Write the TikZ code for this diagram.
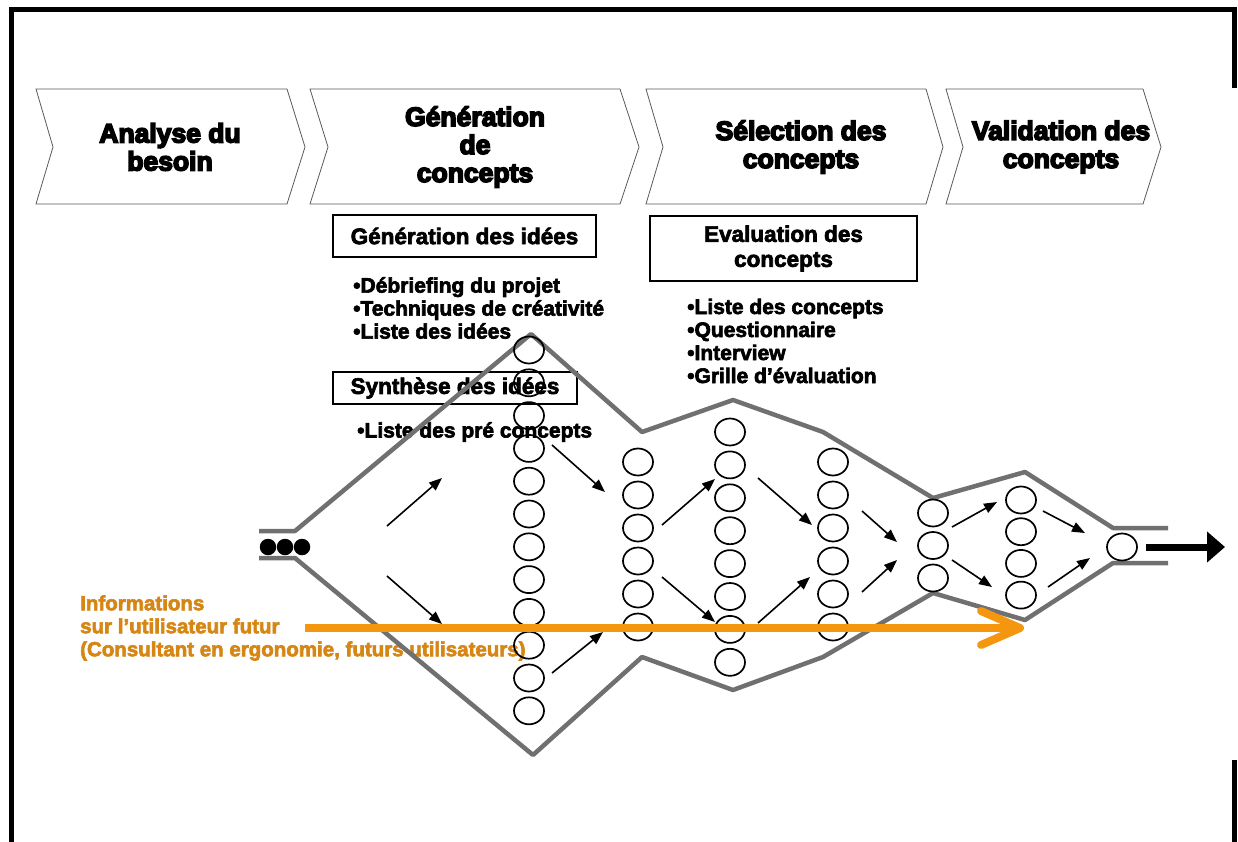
\documentclass[tikz,border=0pt]{standalone}
\usepackage{fontspec}
\setmainfont{Liberation Sans}
\newfontfamily\heavyfont{Liberation Sans Bold}[FakeBold=6]
\newfontfamily\semiheavyfont{Liberation Sans Bold}[FakeBold=3]
\usetikzlibrary{arrows.meta,shapes.geometric}

\definecolor{funnelgray}{RGB}{112,112,112}
\definecolor{chevgray}{RGB}{90,90,90}
\definecolor{infoorange}{RGB}{244,150,14}
\definecolor{infotext}{RGB}{214,134,20}

\begin{document}
\begin{tikzpicture}[x=1pt,y=-1pt,
  chev/.style={draw=chevgray, line width=0.8pt, fill=white},
  phase/.style={font=\heavyfont\fontsize{26.5}{28}\selectfont, align=center, inner sep=0pt},
  titlebox/.style={draw=black, line width=1.6pt, fill=white, inner sep=0pt,
    font=\semiheavyfont\fontsize{22.5}{25}\selectfont, align=center},
  items/.style={font=\semiheavyfont\fontsize{21}{23}\selectfont, align=left, anchor=west, inner sep=0pt},
  infolabel/.style={font=\semiheavyfont\fontsize{20.5}{23}\selectfont, align=left, anchor=west,
    inner sep=0pt, text=infotext},
  funnel/.style={draw=funnelgray, line width=4.5pt, line join=round},
  bubble/.style={ellipse, draw=black, line width=1.7pt,
    minimum width=30pt, minimum height=27pt, inner sep=0pt},
  seed/.style={circle, fill=black, minimum size=16.5pt, inner sep=0pt},
  flow/.style={line width=1.6pt, -{Triangle[length=13pt,width=10pt]}},
  outflow/.style={line width=7pt, -{Triangle[length=18pt,width=30pt]}},
  infoline/.style={draw=infoorange, line width=8pt}
]
\useasboundingbox (0,0) rectangle (1238,841);

% outer frame
\draw[line width=5pt, line join=miter] (1234.8,88) -- (1234.8,9.7) -- (11.7,9.7) -- (11.7,845);
\draw[line width=5pt] (1234.8,760) -- (1234.8,845);

% phase chevrons
\draw[chev] (36,89) -- (287,89) -- (305,147) -- (287,204) -- (36,204) -- (53,147) -- cycle;
\draw[chev] (310,89) -- (620,89) -- (639,147) -- (620,204) -- (310,204) -- (328,147) -- cycle;
\draw[chev] (646,89) -- (926,89) -- (943,147) -- (926,204) -- (646,204) -- (663,147) -- cycle;
\draw[chev] (946,89) -- (1143,89) -- (1161,147) -- (1143,204) -- (946,204) -- (963,147) -- cycle;

\node[phase] (ph1) at (170,147) {Analyse du\\besoin};
\node[phase] (ph2) at (475,147) {Génération\\de\\concepts};
\node[phase] (ph3) at (801,147) {Sélection des\\concepts};
\node[phase] (ph4) at (1061,147) {Validation des\\concepts};

% activity boxes and their contents
\node[titlebox, minimum width=263pt, minimum height=42pt] (gen) at (464.5,236) {Génération des idées};
\node[items] (genlist) at (353,308) {•Débriefing du projet\\•Techniques de créativité\\•Liste des idées};
\node[titlebox, minimum width=244pt, minimum height=32pt] (syn) at (455,388) {Synthèse des idées};
\node[items] (synlist) at (357,432) {•Liste des pré concepts};
\node[titlebox, minimum width=267pt, minimum height=65pt] (eval) at (783.5,248.5) {Evaluation des\\concepts};
\node[items] (evallist) at (687,341) {•Liste des concepts\\•Questionnaire\\•Interview\\•Grille d’évaluation};

% user information label
\node[infolabel] (info) at (80,628) {Informations\\sur l’utilisateur futur\\(Consultant en ergonomie, futurs utilisateurs)};

% funnel outline
\draw[funnel] (259,531) -- (295,531) -- (531,334) -- (642,432) -- (733,400) -- (823,432)
  -- (933,498) -- (1025,472) -- (1113,528) -- (1168,528);
\draw[funnel] (259,558) -- (295,558) -- (533,755) -- (642,657) -- (733,690) -- (823,657)
  -- (933,593) -- (1025,620) -- (1113,563) -- (1168,563);

% ideas and concepts
\foreach \i in {0,...,11} \node[bubble] (a\i) at (529,350+32.8*\i) {};
\foreach \i in {0,...,5}  \node[bubble] (b\i) at (638,462+33*\i) {};
\foreach \i in {0,...,7}  \node[bubble] (c\i) at (730,432+32.9*\i) {};
\foreach \i in {0,...,5}  \node[bubble] (d\i) at (833,462+33*\i) {};
\foreach \i in {0,...,2}  \node[bubble] (e\i) at (933,513+32.5*\i) {};
\foreach \i in {0,...,3}  \node[bubble] (f\i) at (1021,500+31.7*\i) {};
\node[bubble] (g0) at (1122,547) {};

% initial needs
\node[seed] (s1) at (268,547) {};
\node[seed] (s2) at (285,547) {};
\node[seed] (s3) at (302,547) {};

% flow between stages
\foreach \n/\sx/\sy/\ex/\ey in {
  1/387/526/442/478, 2/387/576/442/624,
  3/552/445/605/492, 4/552/673/603/632,
  5/662/525/715/479, 6/662/577/715/622,
  7/758/478/812/525, 8/758/623/810/577,
  9/862/511/897/542, 10/862/592/897/560,
  11/952/527/997/502, 12/952/560/992/587,
  13/1043/511/1085/533, 14/1048/587/1090/558} {
  \coordinate (fl\n-s) at (\sx,\sy);
  \coordinate (fl\n-e) at (\ex,\ey);
  \draw[flow] (fl\n-s) -- (fl\n-e);
}

% result leaving the funnel
\coordinate (out) at (1225,547);
\draw[outflow] ([xshift=8pt]g0.east) -- (out);

% information flow
\coordinate (info-start) at (305,628);
\coordinate (info-tip) at (1020,628);
\coordinate (info-up) at (981,611);
\coordinate (info-dn) at (981,645);
\draw[infoline] (info-start) -- ([xshift=-3pt]info-tip);
\draw[infoline, line cap=round, line join=round] (info-up) -- (info-tip) -- (info-dn);
\end{tikzpicture}
\end{document}
